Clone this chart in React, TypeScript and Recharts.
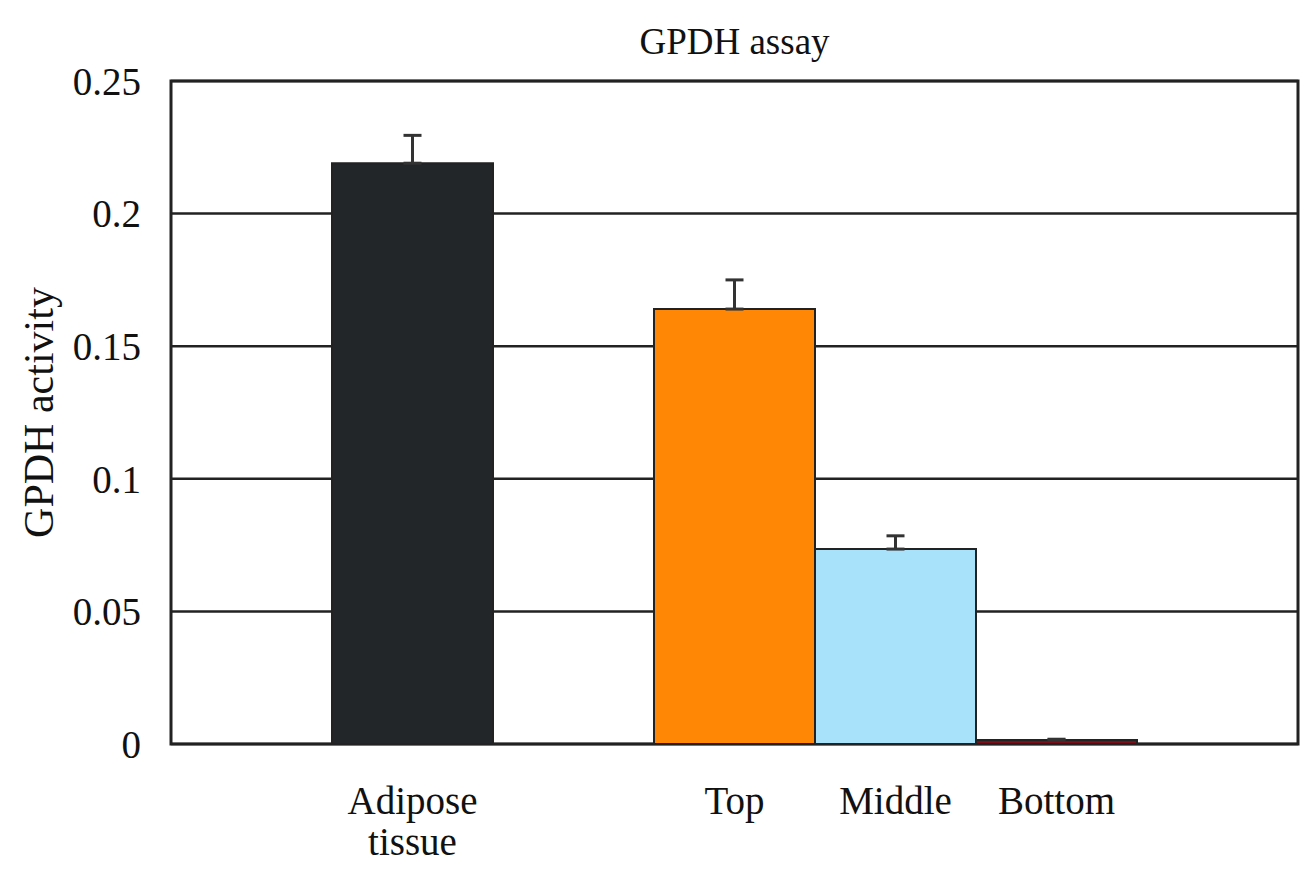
import { BarChart, Bar, XAxis, YAxis, CartesianGrid, ErrorBar, Cell, ReferenceArea } from 'recharts';

// 7 equal slots across the plot; empty ones give the spacing seen in the figure
const slots = ['pad1', 'adipose', 'gap', 'top', 'middle', 'bottom', 'pad2'];
const labels = ['', 'Adipose\ntissue', '', 'Top', 'Middle', 'Bottom', ''];
const activity = [null, 0.219, null, 0.164, 0.0735, 0.0015, null];
const sem = [null, 0.0105, null, 0.011, 0.005, 0.0003, null];
const colors = ['#ffffff', '#222628', '#ffffff', '#ff8705', '#a8e1fa', '#7d0d16', '#ffffff'];
const yTicks = [0, 0.05, 0.1, 0.15, 0.2, 0.25];

const FONT = '"Liberation Serif", "DejaVu Serif", serif';

const chartData = slots.map((id, i) => ({
  id,
  label: labels[i],
  activity: activity[i],
  err: sem[i] == null ? undefined : [0, sem[i]],
}));

function CategoryTick(props: any) {
  const { x, y, payload } = props;
  const text = labels[slots.indexOf(payload.value)] || '';
  const lines = text.split('\n');
  return (
    <text x={x} y={y} textAnchor="middle" fontFamily={FONT} fontSize={39} fill="#111">
      {lines.map((line, i) => (
        <tspan key={i} x={x} dy={i === 0 ? 62 : 41}>
          {line}
        </tspan>
      ))}
    </text>
  );
}

export default function App() {
  return (
    <div style={{ position: 'absolute', left: 0, top: 0, width: 1306, height: 877, background: '#fff' }}>
      <div
        style={{
          position: 'absolute',
          left: 171,
          width: 1127,
          top: 20,
          textAlign: 'center',
          fontFamily: FONT,
          fontSize: 37,
          color: '#111',
        }}
      >
        GPDH assay
      </div>
      <BarChart
        width={1306}
        height={877}
        data={chartData}
        margin={{ top: 81, right: 8, bottom: 0, left: 0 }}
        barCategoryGap={0}
      >
        <CartesianGrid horizontal vertical={false} stroke="#222" strokeWidth={2.5} />
        <ReferenceArea y1={0} y2={0.25} fill="none" stroke="#222" strokeWidth={3} ifOverflow="visible" />
        <XAxis
          dataKey="id"
          height={133}
          axisLine={false}
          tickLine={false}
          interval={0}
          tick={<CategoryTick />}
        />
        <YAxis
          width={171}
          domain={[0, 0.25]}
          ticks={yTicks}
          axisLine={false}
          tickLine={false}
          tickMargin={24}
          tick={{ fontFamily: FONT, fontSize: 39, fill: '#111' }}
          label={{
            value: 'GPDH activity',
            angle: -90,
            position: 'insideLeft',
            offset: 38,
            style: { fontFamily: FONT, fontSize: 42, fill: '#111', textAnchor: 'middle' },
          }}
        />
        <Bar dataKey="activity" stroke="#222" strokeWidth={2} isAnimationActive={false}>
          {chartData.map((d, i) => (
            <Cell key={d.id} fill={colors[i]} />
          ))}
          <ErrorBar dataKey="err" direction="y" width={9} stroke="#333" strokeWidth={3} />
        </Bar>
      </BarChart>
    </div>
  );
}
